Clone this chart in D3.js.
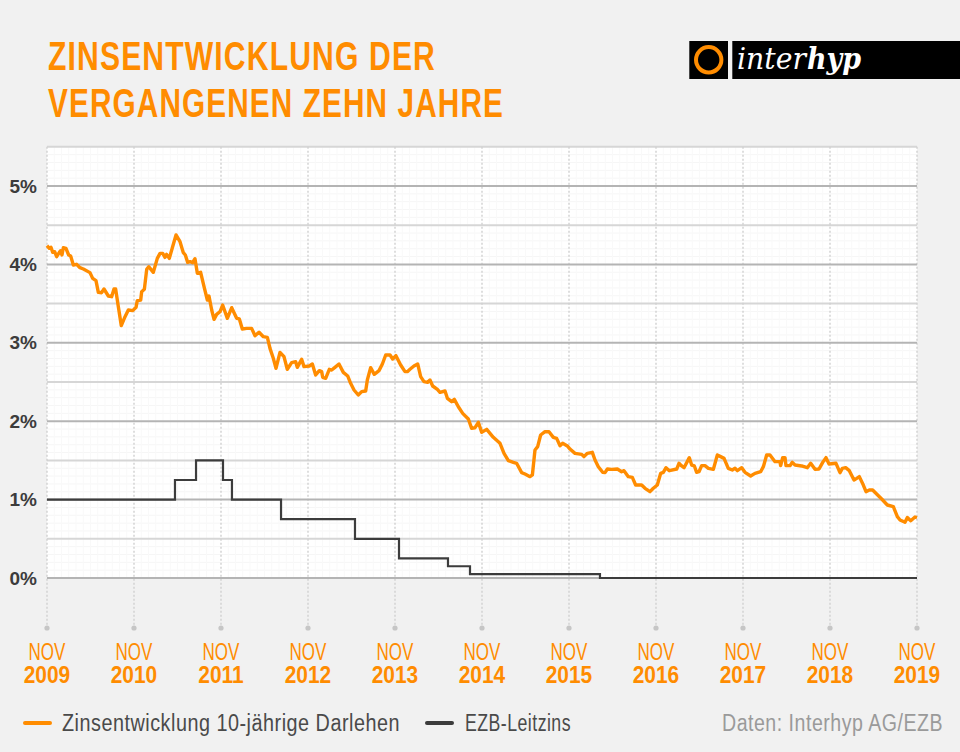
<!DOCTYPE html>
<html>
<head>
<meta charset="utf-8">
<script src="https://cdn.jsdelivr.net/npm/d3@7"></script>
<style>
  html, body { margin: 0; padding: 0; background: #f1f1f1; }
  svg { display: block; }
</style>
</head>
<body>
<svg id="chart"></svg>
<script>
const titleLines = ['ZINSENTWICKLUNG DER', 'VERGANGENEN ZEHN JAHRE'];
const yearLabels = ['2009', '2010', '2011', '2012', '2013', '2014', '2015', '2016', '2017', '2018', '2019'];
const percentTicks = [0, 1, 2, 3, 4, 5];

// Jahre seit Nov 2009 / Zins in Prozent
const zinsYears = [0, .027, .046, .065, .088, .111, .142, .157, .172, .188, .218, .249, .272, .303, .341, .379, .418, .494, .525, .563, .59, .628, .655, .705, .743, .77, .789, .82, .854, .897, .935, .985,
  1.023, 1.038, 1.077, 1.088, 1.119, 1.146, 1.169, 1.222, 1.268, 1.299, 1.33, 1.356, 1.375, 1.406, 1.444, 1.483, 1.529, 1.567, 1.59, 1.617, 1.644, 1.674, 1.701, 1.728, 1.766, 1.805, 1.843, 1.862, 1.893, 1.92, 1.95, 1.989,
  2.019, 2.073, 2.123, 2.18, 2.211, 2.245, 2.295, 2.352, 2.391, 2.437, 2.487, 2.533, 2.563, 2.602, 2.632, 2.678, 2.724, 2.762, 2.812, 2.858, 2.877, 2.927, 2.954,
  3.015, 3.05, 3.088, 3.13, 3.157, 3.169, 3.203, 3.245, 3.272, 3.31, 3.356, 3.406, 3.456, 3.49, 3.529, 3.578, 3.617, 3.663, 3.682, 3.72, 3.762, 3.816, 3.855, 3.893, 3.943, 3.973,
  4.011, 4.065, 4.115, 4.142, 4.172, 4.218, 4.261, 4.295, 4.333, 4.375, 4.402, 4.433, 4.487, 4.517, 4.575, 4.602, 4.651, 4.682, 4.728, 4.778, 4.843, 4.881, 4.92, 4.958, 4.996,
  5.054, 5.13, 5.207, 5.253, 5.303, 5.36, 5.398, 5.456, 5.494, 5.552, 5.579, 5.609, 5.64, 5.674, 5.724, 5.77, 5.82, 5.858, 5.897, 5.927, 5.981,
  6.011, 6.069, 6.146, 6.172, 6.211, 6.268, 6.299, 6.337, 6.387, 6.414, 6.441, 6.49, 6.556, 6.605, 6.632, 6.682, 6.728, 6.766, 6.835, 6.874, 6.931, 6.969,
  7.015, 7.054, 7.084, 7.115, 7.153, 7.238, 7.264, 7.295, 7.322, 7.383, 7.41, 7.441, 7.467, 7.494, 7.525, 7.563, 7.602, 7.659, 7.705, 7.743, 7.782, 7.831, 7.877, 7.908, 7.935, 7.985,
  8.023, 8.088, 8.138, 8.203, 8.234, 8.272, 8.31, 8.368, 8.425, 8.433, 8.456, 8.483, 8.494, 8.54, 8.567, 8.598, 8.674, 8.739, 8.778, 8.828, 8.874, 8.916, 8.954, 8.989,
  9.069, 9.115, 9.142, 9.18, 9.222, 9.276, 9.307, 9.337, 9.383, 9.414, 9.452, 9.49, 9.536, 9.594, 9.659, 9.728, 9.774, 9.805, 9.862, 9.889, 9.928, 9.977, 10];
const zinsValues = [4.24, 4.205, 4.218, 4.154, 4.162, 4.099, 4.154, 4.175, 4.12, 4.213, 4.205, 4.12, 4.107, 3.992, 4.001, 3.958, 3.941, 3.895, 3.822, 3.793, 3.644, 3.639, 3.686, 3.597, 3.588, 3.686, 3.686, 3.461, 3.219, 3.333, 3.418, 3.41,
  3.452, 3.537, 3.546, 3.652, 3.682, 3.937, 3.971, 3.899, 4.077, 4.141, 4.141, 4.09, 4.128, 4.077, 4.226, 4.375, 4.29, 4.15, 4.12, 4.026, 4.035, 4.022, 4.073, 3.886, 3.899, 3.716, 3.546, 3.597, 3.418, 3.299, 3.363, 3.397,
  3.482, 3.312, 3.448, 3.312, 3.304, 3.176, 3.184, 3.184, 3.091, 3.134, 3.078, 3.07, 2.929, 2.8, 2.674, 2.878, 2.823, 2.662, 2.747, 2.759, 2.687, 2.789, 2.696,
  2.704, 2.73, 2.589, 2.645, 2.632, 2.56, 2.547, 2.662, 2.653, 2.687, 2.73, 2.623, 2.577, 2.483, 2.398, 2.334, 2.377, 2.385, 2.526, 2.683, 2.598, 2.645, 2.73, 2.844, 2.844, 2.793,
  2.836, 2.717, 2.632, 2.632, 2.662, 2.704, 2.73, 2.568, 2.504, 2.496, 2.526, 2.449, 2.406, 2.368, 2.385, 2.292, 2.249, 2.279, 2.185, 2.1, 2.028, 1.909, 1.917, 1.986, 1.858,
  1.896, 1.794, 1.718, 1.59, 1.497, 1.475, 1.463, 1.344, 1.327, 1.293, 1.314, 1.633, 1.675, 1.824, 1.866, 1.866, 1.794, 1.781, 1.688, 1.718, 1.684,
  1.645, 1.59, 1.577, 1.548, 1.59, 1.603, 1.505, 1.42, 1.348, 1.344, 1.39, 1.386, 1.39, 1.356, 1.369, 1.293, 1.284, 1.186, 1.186, 1.144, 1.101, 1.144,
  1.186, 1.335, 1.348, 1.407, 1.369, 1.39, 1.463, 1.429, 1.407, 1.535, 1.441, 1.429, 1.348, 1.356, 1.433, 1.433, 1.399, 1.386, 1.569, 1.548, 1.526, 1.399, 1.378, 1.399, 1.369, 1.407,
  1.348, 1.301, 1.335, 1.356, 1.42, 1.569, 1.569, 1.484, 1.484, 1.433, 1.535, 1.535, 1.433, 1.433, 1.475, 1.441, 1.429, 1.407, 1.463, 1.386, 1.39, 1.475, 1.535, 1.454,
  1.463, 1.344, 1.399, 1.407, 1.369, 1.25, 1.271, 1.293, 1.186, 1.101, 1.122, 1.122, 1.071, 1.008, .931, .91, .782, .74, .71, .77, .731, .778, .77];

// EZB-Leitzins, Stufen
const ezbYears = [0, 1.471, 1.713, 2.023, 2.126, 2.69, 3.54, 4.046, 4.609, 4.862, 6.356, 10];
const ezbValues = [1, 1.25, 1.5, 1.25, 1, .75, .5, .25, .15, .05, 0, 0];

const width = 960, height = 752;
const orange = '#ff8c00', dark = '#3c3c3c';
const sans = '"Liberation Sans", sans-serif';

const svg = d3.select('#chart').attr('width', width).attr('height', height);

const x = d3.scaleLinear().domain([0, 10]).range([47, 917]);
const y = d3.scaleLinear().domain([0, 5]).range([578, 186]);

// Hintergrund der Zeichenfläche
svg.append('rect')
    .attr('x', x(0)).attr('y', y(5.5))
    .attr('width', x(10) - x(0)).attr('height', y(0) - y(5.5))
    .attr('fill', '#fff');

// feines Raster
const minorY = d3.range(1, 55).filter(d => d % 5 !== 0).map(d => d / 10);
svg.append('g').selectAll('line').data(minorY).join('line')
    .attr('x1', x(0)).attr('x2', x(10))
    .attr('y1', d => y(d)).attr('y2', d => y(d))
    .attr('stroke', '#f6f6f6').attr('stroke-width', 1);

const minorX = d3.range(1, 120).filter(d => d % 12 !== 0).map(d => d / 12);
svg.append('g').selectAll('line').data(minorX).join('line')
    .attr('x1', d => x(d)).attr('x2', d => x(d))
    .attr('y1', y(5.5)).attr('y2', y(0))
    .attr('stroke', '#f9f9f9').attr('stroke-width', 1);

// halbe Prozent
const halfTicks = [0.5, 1.5, 2.5, 3.5, 4.5, 5.5];
svg.append('g').selectAll('line').data(halfTicks).join('line')
    .attr('x1', x(0)).attr('x2', x(10))
    .attr('y1', d => y(d)).attr('y2', d => y(d))
    .attr('stroke', '#d6d6d6').attr('stroke-width', 2);

// Jahreslinien + Punkte
const yearGroup = svg.append('g').selectAll('g').data(yearLabels).join('g')
    .attr('transform', (d, i) => `translate(${x(i)},0)`);

yearGroup.append('line')
    .attr('y1', y(5.5)).attr('y2', 628)
    .attr('stroke', '#d0d0d0').attr('stroke-width', 1.4).attr('stroke-dasharray', '2 2');

yearGroup.append('circle')
    .attr('cy', 628).attr('r', 2.6).attr('fill', '#c6c6c6');

// schmale Schrift gibt es nicht, also horizontal gestaucht
yearGroup.append('text')
    .attr('transform', 'translate(0,659.5) scale(0.74,1)')
    .attr('text-anchor', 'middle')
    .attr('font-family', sans).attr('font-size', 23)
    .attr('fill', orange)
    .text('NOV');

yearGroup.append('text')
    .attr('transform', 'translate(0,683) scale(0.89,1)')
    .attr('text-anchor', 'middle')
    .attr('font-family', sans).attr('font-size', 23.5).attr('font-weight', 'bold')
    .attr('fill', orange)
    .text(d => d);

// ganze Prozent
svg.append('g').selectAll('line').data(percentTicks).join('line')
    .attr('x1', x(0)).attr('x2', x(10))
    .attr('y1', d => y(d)).attr('y2', d => y(d))
    .attr('stroke', '#b4b4b4').attr('stroke-width', 2);

svg.append('g').selectAll('text').data(percentTicks).join('text')
    .attr('x', 37).attr('y', d => y(d) + 6.5)
    .attr('text-anchor', 'end')
    .attr('font-family', sans).attr('font-size', 19).attr('font-weight', 'bold')
    .attr('fill', dark)
    .text(d => d + '%');

// Linien
const zinsLine = d3.line().x((d, i) => x(zinsYears[i])).y(d => y(d));
const ezbLine = d3.line().x((d, i) => x(ezbYears[i])).y(d => y(d)).curve(d3.curveStepAfter);

svg.append('path').datum(ezbValues)
    .attr('d', ezbLine)
    .attr('fill', 'none').attr('stroke', dark).attr('stroke-width', 2.2);

svg.append('path').datum(zinsValues)
    .attr('d', zinsLine)
    .attr('fill', 'none').attr('stroke', orange).attr('stroke-width', 3.4)
    .attr('stroke-linejoin', 'round');

// Titel
const titleLengths = [388, 456];
svg.append('g').selectAll('text').data(titleLines).join('text')
    .attr('x', 48).attr('y', (d, i) => 70 + i * 47)
    .attr('font-family', sans).attr('font-size', 40).attr('font-weight', 'bold')
    .attr('letter-spacing', 1.5)
    .attr('textLength', (d, i) => titleLengths[i]).attr('lengthAdjust', 'spacingAndGlyphs')
    .attr('fill', orange)
    .text(d => d);

// Logo
const logo = svg.append('g');
logo.append('rect').attr('x', 689.3).attr('y', 41).attr('width', 38.7).attr('height', 38).attr('fill', '#000');
logo.append('rect').attr('x', 732.3).attr('y', 41).attr('width', 228).attr('height', 38).attr('fill', '#000');
logo.append('circle').attr('cx', 708.7).attr('cy', 59.8).attr('r', 12.7)
    .attr('fill', 'none').attr('stroke', orange).attr('stroke-width', 4);
logo.append('text')
    .attr('x', 737).attr('y', 68.5)
    .attr('font-family', '"DejaVu Serif", serif').attr('font-size', 29).attr('font-style', 'italic')
    .attr('textLength', 69).attr('lengthAdjust', 'spacingAndGlyphs')
    .attr('fill', '#fff')
    .text('inter');
logo.append('text')
    .attr('x', 807).attr('y', 68.5)
    .attr('font-family', '"DejaVu Serif", serif').attr('font-size', 29).attr('font-style', 'italic').attr('font-weight', 'bold')
    .attr('textLength', 54).attr('lengthAdjust', 'spacingAndGlyphs')
    .attr('fill', '#fff')
    .text('hyp');

// Legende
const legendItems = [
    { label: 'Zinsentwicklung 10-jährige Darlehen', color: orange, x1: 25, x2: 50, textX: 62, len: 338 },
    { label: 'EZB-Leitzins', color: dark, x1: 427, x2: 452, textX: 465, len: 106 }
];
const legend = svg.append('g').selectAll('g').data(legendItems).join('g');
legend.append('line')
    .attr('x1', d => d.x1).attr('x2', d => d.x2).attr('y1', 723).attr('y2', 723)
    .attr('stroke', d => d.color).attr('stroke-width', 4).attr('stroke-linecap', 'round');
legend.append('text')
    .attr('x', d => d.textX).attr('y', 730.5)
    .attr('font-family', sans).attr('font-size', 23)
    .attr('letter-spacing', 0.6)
    .attr('textLength', d => d.len).attr('lengthAdjust', 'spacingAndGlyphs')
    .attr('fill', '#4a4a4a')
    .text(d => d.label);

svg.append('text')
    .attr('x', 943).attr('y', 730.5).attr('text-anchor', 'end')
    .attr('font-family', sans).attr('font-size', 23)
    .attr('letter-spacing', 0.6)
    .attr('textLength', 221).attr('lengthAdjust', 'spacingAndGlyphs')
    .attr('fill', '#9a9a9a')
    .text('Daten: Interhyp AG/EZB');
</script>
</body>
</html>
